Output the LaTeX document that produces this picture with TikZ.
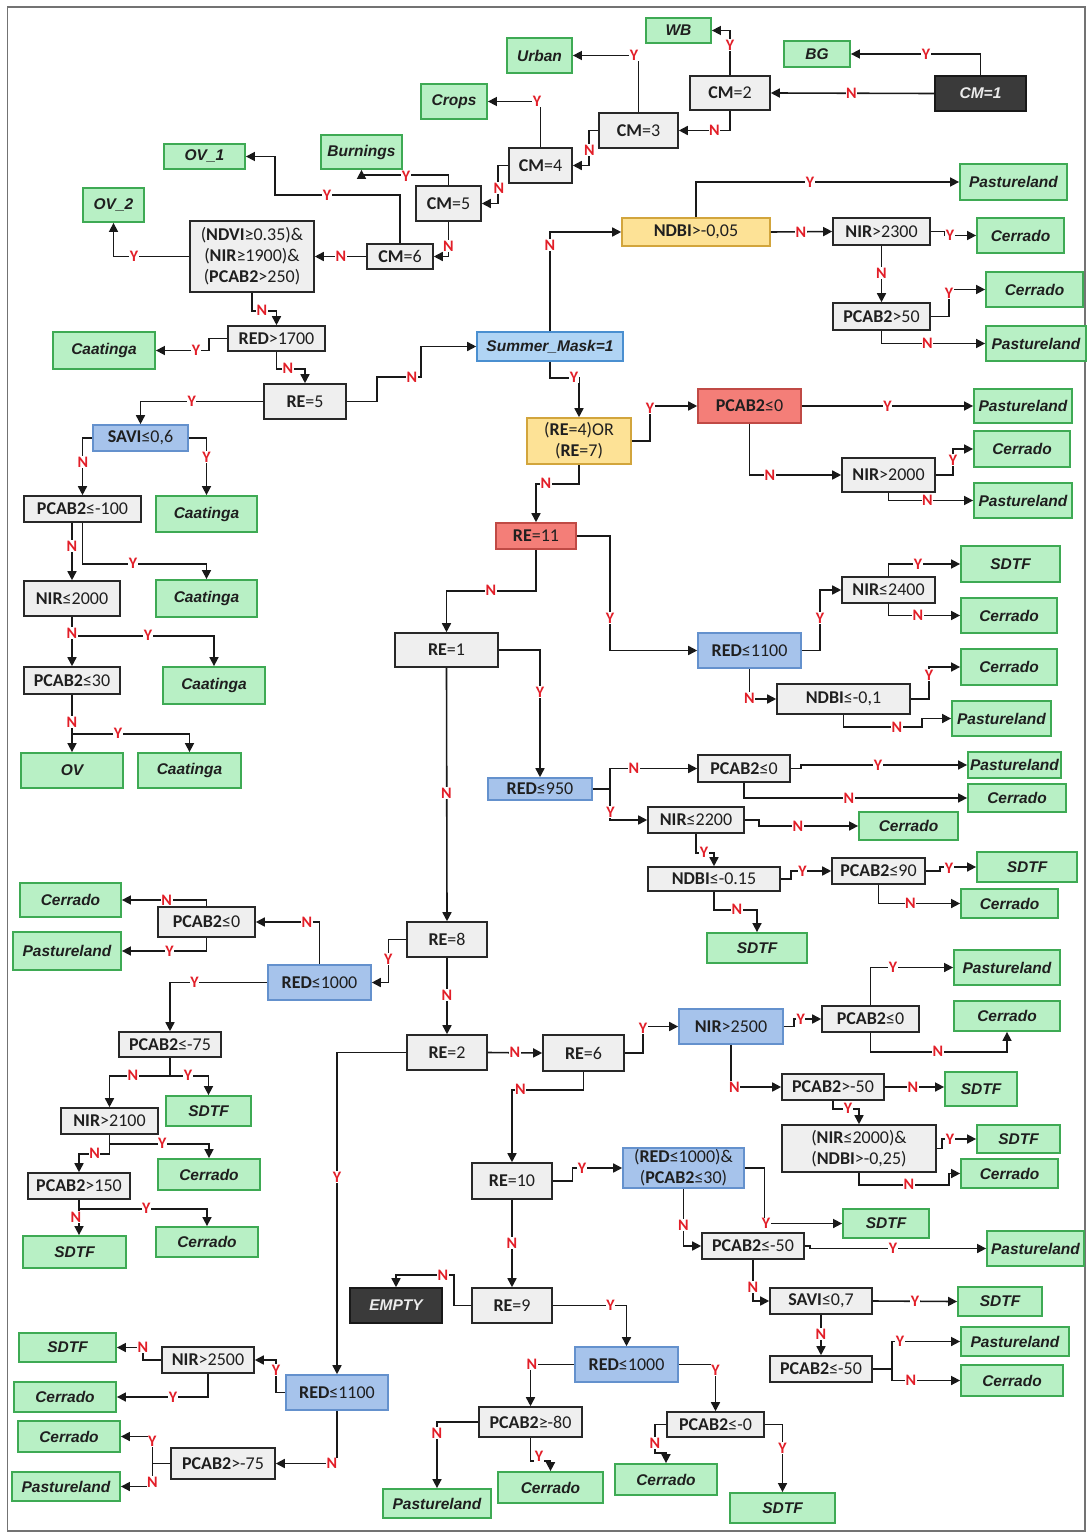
\documentclass[tikz,border=0pt]{standalone}
\usepackage{fontspec}
\setmainfont{Carlito}
\newfontfamily\arialf{Liberation Sans}
\usetikzlibrary{arrows.meta}
\definecolor{gfill}{RGB}{239,239,239}
\definecolor{gdraw}{RGB}{40,40,40}
\definecolor{grfill}{RGB}{184,240,197}
\definecolor{grdraw}{RGB}{62,170,84}
\definecolor{blfill}{RGB}{166,195,235}
\definecolor{bldraw}{RGB}{100,145,205}
\definecolor{smfill}{RGB}{176,212,244}
\definecolor{smdraw}{RGB}{74,143,208}
\definecolor{yefill}{RGB}{253,226,150}
\definecolor{yedraw}{RGB}{210,165,60}
\definecolor{rdfill}{RGB}{244,126,120}
\definecolor{rddraw}{RGB}{192,74,69}
\definecolor{dkfill}{RGB}{58,58,58}
\definecolor{lblred}{RGB}{226,30,40}
\definecolor{linec}{RGB}{25,25,25}
\newcommand{\mkbox}[7]{\node[#1, minimum width={(#5-#3)*1pt}, minimum height={(#6-#4)*1pt}] (#2) at ({(#3+#5)/2},{(#4+#6)/2}) {#7};}
\newcommand{\lab}[4]{\node[lbl] (#1) at (#2,#3) {#4};}
\begin{document}
\begin{tikzpicture}[x=1pt,y=-1pt,
  base/.style={draw, line width=1.6pt, inner sep=0pt, align=center},
  gray/.style={base, fill=gfill, draw=gdraw, text=black!88, font=\fontsize{18}{21}\selectfont},
  grn/.style={base, fill=grfill, draw=grdraw, line width=1.8pt, text=black!88, font=\arialf\bfseries\itshape\fontsize{15.5}{17}\selectfont},
  blu/.style={gray, fill=blfill, draw=bldraw},
  smask/.style={base, fill=smfill, draw=smdraw, text=black!88, font=\arialf\bfseries\itshape\fontsize{15.5}{17}\selectfont},
  yel/.style={gray, fill=yefill, draw=yedraw},
  redb/.style={gray, fill=rdfill, draw=rddraw},
  dark/.style={base, fill=dkfill, draw=black!90, text=white!92!black, font=\arialf\bfseries\itshape\fontsize{15.5}{17}\selectfont},
  arr/.style={draw=linec, line width=1.6pt, -{Triangle[length=9pt,width=9pt]}},
  lbl/.style={fill=white, inner sep=0.6pt, text=lblred, font=\bfseries\fontsize{16}{16}\selectfont}
]
\useasboundingbox (0,0) rectangle (1088,1533);
\draw[line width=1.2pt, black!55] (7.5,7) rectangle (1085,1531);

% ---------------- nodes ----------------
\mkbox{dark}{cm1}{935}{76}{1026}{111}{CM=1}
\mkbox{grn}{bg}{784}{41}{850}{67}{BG}
\mkbox{gray}{cm2}{690}{76}{770}{110}{\textbf{CM}=2}
\mkbox{grn}{wb}{646}{18}{711}{43}{WB}
\mkbox{gray}{cm3}{599}{113}{678}{148}{\textbf{CM}=3}
\mkbox{grn}{urban}{507}{38}{572}{73}{Urban}
\mkbox{gray}{cm4}{509}{148}{572}{183}{\textbf{CM}=4}
\mkbox{grn}{crops}{421}{84}{487}{119}{Crops}
\mkbox{gray}{cm5}{416}{186}{481}{221}{\textbf{CM}=5}
\mkbox{grn}{burn}{321}{135}{402}{169}{Burnings}
\mkbox{grn}{ov1}{164}{144}{245}{169}{OV\_1}
\mkbox{gray}{cm6}{367}{244}{433}{269}{\textbf{CM}=6}
\mkbox{gray}{ndvi}{190}{221}{314}{292}{(\textbf{NDVI}≥0.35)\&\\(\textbf{NIR}≥1900)\&\\(\textbf{PCAB2}>250)}
\mkbox{grn}{ov2}{83}{188}{144}{222}{OV\_2}
\mkbox{gray}{red1700}{228}{326}{325}{351}{\textbf{RED}>1700}
\mkbox{grn}{caa1}{53}{332}{155}{369}{Caatinga}
\mkbox{gray}{re5}{264}{384}{346}{419}{\textbf{RE}=5}
\mkbox{smask}{sm}{477}{332}{623}{361}{Summer\_Mask=1}
\mkbox{yel}{ndbi005}{622}{218}{770}{246}{\textbf{NDBI}>-0,05}
\mkbox{grn}{past1}{960}{164}{1067}{200}{Pastureland}
\mkbox{gray}{nir2300}{833}{218}{930}{245}{\textbf{NIR}>2300}
\mkbox{grn}{cer1}{977}{218}{1064}{253}{Cerrado}
\mkbox{gray}{pc50}{833}{303}{930}{330}{\textbf{PCAB2}>50}
\mkbox{grn}{cer2}{986}{272}{1083}{307}{Cerrado}
\mkbox{grn}{past2}{986}{326}{1086}{361}{Pastureland}

\mkbox{blu}{savi6}{93}{425}{188}{451}{\textbf{SAVI}≤0,6}
\mkbox{gray}{pcm100}{24}{496}{141}{522}{\textbf{PCAB2}≤-100}
\mkbox{grn}{caa2}{156}{496}{257}{532}{Caatinga}
\mkbox{gray}{nir2000a}{24}{581}{120}{616}{\textbf{NIR}≤2000}
\mkbox{grn}{caa3}{156}{580}{257}{617}{Caatinga}
\mkbox{gray}{pc30}{24}{667}{120}{694}{\textbf{PCAB2}≤30}
\mkbox{grn}{caa4}{163}{667}{265}{704}{Caatinga}
\mkbox{grn}{ov}{21}{753}{123}{788}{OV}
\mkbox{grn}{caa5}{138}{753}{241}{788}{Caatinga}
\mkbox{yel}{re47}{527}{418}{631}{464}{(\textbf{RE}=4)OR\\(\textbf{RE}=7)}
\mkbox{redb}{pc0r}{698}{389}{801}{423}{\textbf{PCAB2}≤0}
\mkbox{grn}{past3}{974}{389}{1072}{423}{Pastureland}
\mkbox{gray}{nir2000b}{842}{458}{935}{492}{\textbf{NIR}>2000}
\mkbox{grn}{cer3}{974}{431}{1070}{467}{Cerrado}
\mkbox{grn}{past4}{974}{483}{1072}{518}{Pastureland}
\mkbox{redb}{re11}{496}{523}{576}{549}{\textbf{RE}=11}
\mkbox{gray}{re1}{395}{633}{498}{667}{\textbf{RE}=1}
\mkbox{blu}{red1100a}{698}{633}{801}{668}{\textbf{RED}≤1100}
\mkbox{gray}{nir2400}{842}{577}{935}{603}{\textbf{NIR}≤2400}
\mkbox{grn}{sdtf1}{961}{546}{1060}{582}{SDTF}
\mkbox{grn}{cer4}{961}{598}{1057}{633}{Cerrado}
\mkbox{gray}{ndbi01}{777}{684}{910}{714}{\textbf{NDBI}≤-0,1}
\mkbox{grn}{cer5}{961}{649}{1057}{685}{Cerrado}
\mkbox{grn}{past5}{952}{701}{1051}{736}{Pastureland}
\mkbox{blu}{red950}{488}{778}{592}{800}{\textbf{RED}≤950}
\mkbox{gray}{pc0b}{698}{755}{790}{782}{\textbf{PCAB2}≤0}
\mkbox{grn}{past6}{968}{752}{1061}{778}{Pastureland}
\mkbox{grn}{cer6}{968}{784}{1066}{812}{Cerrado}
\mkbox{gray}{nir2200}{648}{807}{744}{833}{\textbf{NIR}≤2200}
\mkbox{grn}{cer7}{859}{812}{958}{840}{Cerrado}
\mkbox{gray}{ndbi015}{648}{867}{780}{891}{\textbf{NDBI}≤-0.15}
\mkbox{gray}{pc90}{832}{858}{925}{884}{\textbf{PCAB2}≤90}
\mkbox{grn}{sdtf2}{977}{852}{1077}{882}{SDTF}
\mkbox{grn}{cer8}{961}{889}{1058}{918}{Cerrado}
\mkbox{grn}{sdtf3}{707}{933}{807}{963}{SDTF}

\mkbox{gray}{re8}{407}{922}{487}{957}{\textbf{RE}=8}
\mkbox{blu}{red1000a}{268}{965}{371}{1000}{\textbf{RED}≤1000}
\mkbox{gray}{pc0d}{158}{907}{255}{937}{\textbf{PCAB2}≤0}
\mkbox{grn}{cer9}{20}{883}{121}{917}{Cerrado}
\mkbox{grn}{past7}{13}{932}{121}{970}{Pastureland}
\mkbox{gray}{pcm75}{119}{1032}{221}{1057}{\textbf{PCAB2}≤-75}
\mkbox{gray}{nir2100}{61}{1108}{158}{1134}{\textbf{NIR}>2100}
\mkbox{grn}{sdtf4}{166}{1096}{251}{1126}{SDTF}
\mkbox{gray}{pc150}{28}{1173}{130}{1199}{\textbf{PCAB2}>150}
\mkbox{grn}{cer10}{158}{1159}{260}{1190}{Cerrado}
\mkbox{grn}{sdtf5}{23}{1236}{126}{1268}{SDTF}
\mkbox{grn}{cer11}{156}{1227}{258}{1257}{Cerrado}
\mkbox{gray}{re2}{407}{1035}{487}{1070}{\textbf{RE}=2}
\mkbox{gray}{re6}{543}{1035}{624}{1071}{\textbf{RE}=6}
\mkbox{blu}{nir2500a}{679}{1009}{783}{1044}{\textbf{NIR}>2500}
\mkbox{gray}{pc0c}{822}{1006}{919}{1032}{\textbf{PCAB2}≤0}
\mkbox{grn}{past8}{954}{950}{1060}{985}{Pastureland}
\mkbox{grn}{cer12}{954}{1001}{1060}{1031}{Cerrado}
\mkbox{gray}{pcm50a}{782}{1074}{884}{1100}{\textbf{PCAB2}>-50}
\mkbox{grn}{sdtf6}{945}{1072}{1017}{1106}{SDTF}
\mkbox{gray}{nirndbi}{782}{1125}{936}{1172}{(\textbf{NIR}≤2000)\&\\(\textbf{NDBI}>-0,25)}
\mkbox{grn}{sdtf7}{977}{1125}{1060}{1153}{SDTF}
\mkbox{grn}{cer13}{961}{1159}{1058}{1188}{Cerrado}
\mkbox{gray}{re10}{472}{1163}{552}{1199}{\textbf{RE}=10}
\mkbox{blu}{redpc}{623}{1148}{744}{1188}{(\textbf{RED}≤1000)\&\\(\textbf{PCAB2}≤30)}
\mkbox{grn}{sdtf8}{843}{1209}{929}{1238}{SDTF}
\mkbox{gray}{pcm50b}{702}{1233}{804}{1259}{\textbf{PCAB2}≤-50}
\mkbox{grn}{past9}{987}{1231}{1084}{1266}{Pastureland}
\mkbox{gray}{savi7}{770}{1288}{872}{1314}{\textbf{SAVI}≤0,7}
\mkbox{grn}{sdtf9}{958}{1287}{1042}{1316}{SDTF}
\mkbox{gray}{pcm50c}{770}{1356}{872}{1382}{\textbf{PCAB2}≤-50}
\mkbox{grn}{past10}{961}{1327}{1069}{1356}{Pastureland}
\mkbox{grn}{cer14}{961}{1365}{1063}{1396}{Cerrado}
\mkbox{gray}{re9}{472}{1288}{552}{1323}{\textbf{RE}=9}
\mkbox{dark}{empty}{350}{1288}{442}{1323}{EMPTY}
\mkbox{blu}{red1000b}{575}{1347}{678}{1382}{\textbf{RED}≤1000}
\mkbox{gray}{pcm80}{479}{1407}{582}{1437}{\textbf{PCAB2}≥-80}
\mkbox{grn}{past11}{383}{1489}{491}{1518}{Pastureland}
\mkbox{grn}{cer15}{498}{1472}{603}{1503}{Cerrado}
\mkbox{gray}{pcm0}{667}{1412}{764}{1437}{\textbf{PCAB2}≤-0}
\mkbox{grn}{cer16}{615}{1464}{717}{1495}{Cerrado}
\mkbox{grn}{sdtf10}{730}{1493}{835}{1523}{SDTF}
\mkbox{blu}{red1100b}{286}{1375}{388}{1410}{\textbf{RED}≤1100}
\mkbox{gray}{nir2500b}{162}{1347}{254}{1373}{\textbf{NIR}>2500}
\mkbox{grn}{sdtf11}{19}{1333}{116}{1362}{SDTF}
\mkbox{grn}{cer17}{14}{1382}{116}{1412}{Cerrado}
\mkbox{gray}{pcm75b}{171}{1448}{275}{1479}{\textbf{PCAB2}>-75}
\mkbox{grn}{cer18}{18}{1421}{120}{1452}{Cerrado}
\mkbox{grn}{past12}{12}{1472}{120}{1501}{Pastureland}

% ---------------- connectors ----------------
\draw[arr] (cm1.north) |- (bg.east);
\draw[arr] (cm1.west) -- (cm2.east);
\draw[arr] (cm2.north) |- (wb.east);
\draw[arr] (cm2.south) |- (cm3.east);
\draw[arr] (cm3.north) |- (urban.east);
\draw[arr] (cm3.west) -- ++(-9.5,0) |- (cm4.east);
\draw[arr] (cm4.north) |- (crops.east);
\draw[arr] (cm4.west) -- ++(-10,0) |- (cm5.east);
\draw[arr] (cm5.north) -- ++(0,-10) -| (burn.south);
\draw[arr] (cm5.south) |- (cm6.east);
\draw[arr] (cm6.north) |- (275,195) |- (ov1.east);
\draw[arr] (cm6.west) -- (ndvi.east);
\draw[arr] (ndvi.west) -| (ov2.south);
\draw[arr] (ndvi.south) -- ++(0,18) -| (red1700.north);
\draw[arr] (red1700.west) -- ++(-18,0) |- (caa1.east);
\draw[arr] (red1700.south) -- ++(0,17) -| (re5.north);
\draw[arr] (re5.east) -| (377,377) -| (421,346.5) -- (sm.west);
\draw[arr] (sm.north) |- (ndbi005.west);
\draw[arr] (ndbi005.north) |- (past1.west);
\draw[arr] (ndbi005.east) -- (nir2300.west);
\draw[arr] (nir2300.east) -- ++(14,0) |- (cer1.west);
\draw[arr] (nir2300.south) -- (pc50.north);
\draw[arr] (pc50.east) -| (949,289.5) -- (cer2.west);
\draw[arr] (pc50.south) |- (past2.west);
\draw[arr] (sm.south) -- ++(0,16) -| (re47.north);
\draw[arr] (re5.west) -| (savi6.north);
\draw[arr] (savi6.west) -| (pcm100.north);
\draw[arr] (savi6.east) -| (caa2.north);
\draw[arr] (nir2000a.north |- pcm100.south) -- (nir2000a.north);
\draw[arr] (pcm100.south) -- ++(0,41) -| (caa3.north);
\draw[arr] (nir2000a.south) -- (pc30.north);
\draw[arr] (nir2000a.south) -- ++(0,19) -| (caa4.north);
\draw[arr] (pc30.south) -- (ov.north);
\draw[arr] (pc30.south) ++(0,39) -| (caa5.north);
\draw[arr] (re47.east) -| (650,406) -- (pc0r.west);
\draw[arr] (pc0r.east) -- (past3.west);
\draw[arr] (pc0r.south) |- (nir2000b.west);
\draw[arr] (nir2000b.east) -| (953,449) -- (cer3.west);
\draw[arr] (nir2000b.south) |- (past4.west);
\draw[arr] (re47.south) -- ++(0,19) -| (re11.north);
\draw[arr] (re11.south) -- ++(0,41) -| (re1.north);
\draw[arr] (re11.east) -| (610,650.5) -- (red1100a.west);
\draw[arr] (red1100a.east) -| (820,590) -- (nir2400.west);
\draw[arr] (nir2400.north) |- (sdtf1.west);
\draw[arr] (nir2400.south) |- (cer4.west);
\draw[arr] (red1100a.south) |- (ndbi01.west);
\draw[arr] (ndbi01.east) -| (929,667) -- (cer5.west);
\draw[arr] (ndbi01.south) |- (922,727) |- (past5.west);
\draw[arr] (re1.east) -| (red950.north);
\draw[arr] (re1.south) -- (re8.north);
\draw[arr] (red950.east) -| (610,768.5) -- (pc0b.west);
\draw[arr] (pc0b.east) -- ++(10,0) |- (past6.west);
\draw[arr] (pc0b.south) |- (cer6.west);
\draw[arr] (red950.east) -| (610,820) -- (nir2200.west);
\draw[arr] (nir2200.east) -- ++(14,0) |- (cer7.west);
\draw[arr] (nir2200.south) -- ++(0,19) -| (ndbi015.north);
\draw[arr] (ndbi015.east) -- ++(10,0) |- (pc90.west);
\draw[arr] (pc90.east) -- ++(14,0) |- (sdtf2.west);
\draw[arr] (pc90.south) |- (cer8.west);
\draw[arr] (ndbi015.south) -- ++(0,18) -| (sdtf3.north);
\draw[arr] (re8.west) -| (388.4,982.5) -- (red1000a.east);
\draw[arr] (red1000a.north) |- (pc0d.east);
\draw[arr] (pc0d.north) |- (cer9.east);
\draw[arr] (pc0d.south) |- (past7.east);
\draw[arr] (red1000a.west) -| (pcm75.north);
\draw[arr] (pcm75.south) -- ++(0,18) -| (nir2100.north);
\draw[arr] (pcm75.south) -- ++(0,18) -| (sdtf4.north);
\draw[arr] (nir2100.south) -- ++(0,9) -| (cer10.north);
\draw[arr] (nir2100.south) -- ++(0,19) -| (pc150.north);
\draw[arr] (pc150.south) -- ++(0,9) -| (cer11.north);
\draw[arr] (pc150.south) -- (pc150.south |- sdtf5.north);
\draw[arr] (re8.south) -- (re2.north);
\draw[arr] (re2.east) -- (re6.west);
\draw[arr] (re2.west) -| (red1100b.north);
\draw[arr] (re6.east) -| (643,1026.5) -- (nir2500a.west);
\draw[arr] (nir2500a.east) -- ++(10,0) |- (pc0c.west);
\draw[arr] (pc0c.north) |- (past8.west);
\draw[arr] (pc0c.south) -- ++(0,19) -| (cer12.south);
\draw[arr] (nir2500a.south) |- (pcm50a.west);
\draw[arr] (pcm50a.east) -- (sdtf6.west |- pcm50a.east);
\draw[arr] (pcm50a.south) -- ++(0,8) -| (nirndbi.north);
\draw[arr] (nirndbi.east) -- ++(5,0) |- (sdtf7.west);
\draw[arr] (nirndbi.south) -- ++(0,12) -| (949,1173.5) -- (cer13.west);
\draw[arr] (re6.south) -- ++(0,18) -| (re10.north);
\draw[arr] (re10.east) -| (572.5,1168) -- (redpc.west);
\draw[arr] (redpc.east) -| (764.5,1223.5) -- (sdtf8.west);
\draw[arr] (redpc.south) |- (pcm50b.west);
\draw[arr] (pcm50b.east) -- ++(5,0) |- (past9.west);
\draw[arr] (pcm50b.south) |- (savi7.west);
\draw[arr] (savi7.east) -- (sdtf9.west);
\draw[arr] (savi7.south) -- (pcm50c.north);
\draw[arr] (pcm50c.east) -- ++(19,0) |- (past10.west);
\draw[arr] (pcm50c.east) -- ++(19,0) |- (cer14.west);
\draw[arr] (re10.south) -- (re9.north);
\draw[arr] (re9.west) -| (454,1275) -| (empty.north);
\draw[arr] (re9.east) -| (red1000b.north);
\draw[arr] (red1000b.west) -| (pcm80.north);
\draw[arr] (pcm80.west) -| (past11.north);
\draw[arr] (pcm80.south) -- ++(0,23) -| (cer15.north);
\draw[arr] (red1000b.east) -| (pcm0.north);
\draw[arr] (pcm0.west) -| (655,1452.7) -| (cer16.north);
\draw[arr] (pcm0.east) -| (sdtf10.north);
\draw[arr] (red1100b.west) -| (276,1360) -- (nir2500b.east);
\draw[arr] (nir2500b.west) -| (143,1347.5) -- (sdtf11.east);
\draw[arr] (nir2500b.south) |- (cer17.east);
\draw[arr] (red1100b.south) |- (pcm75b.east);
\draw[arr] (pcm75b.west) -| (152.4,1436.5) -- (cer18.east);
\draw[arr] (pcm75b.west) -| (152.4,1486.5) -- (past12.east);

% ---------------- labels ----------------
\lab{l1}{926}{54}{Y}
\lab{l2}{851.5}{93.5}{N}
\lab{l3}{730}{45}{Y}
\lab{l4}{714.5}{130.5}{N}
\lab{l5}{634}{55.5}{Y}
\lab{l6}{589.5}{150}{N}
\lab{l7}{537}{101.5}{Y}
\lab{l8}{499}{188}{N}
\lab{l9}{406}{176}{Y}
\lab{l10}{448.5}{246}{N}
\lab{l11}{327}{195}{Y}
\lab{l12}{341}{256.5}{N}
\lab{l13}{134}{256.5}{Y}
\lab{l14}{262}{310}{N}
\lab{l15}{196}{350.5}{Y}
\lab{l16}{288}{368}{N}
\lab{l17}{412}{377}{N}
\lab{l18}{550}{245}{N}
\lab{l19}{810}{182}{Y}
\lab{l20}{801}{232}{N}
\lab{l21}{950}{235}{Y}
\lab{l22}{881.5}{273}{N}
\lab{l23}{949}{293}{Y}
\lab{l24}{927.5}{343.5}{N}
\lab{l25}{574}{377}{Y}
\lab{l26}{191.7}{401.5}{Y}
\lab{l27}{83}{462}{N}
\lab{l28}{206.5}{457}{Y}
\lab{l29}{72}{546}{N}
\lab{l30}{133}{563}{Y}
\lab{l31}{72}{633}{N}
\lab{l32}{148}{635}{Y}
\lab{l33}{72}{722}{N}
\lab{l34}{118}{733}{Y}
\lab{l35}{650}{408}{Y}
\lab{l36}{887.6}{406}{Y}
\lab{l37}{770}{475}{N}
\lab{l38}{953}{460}{Y}
\lab{l39}{927.5}{500.5}{N}
\lab{l40}{546}{483}{N}
\lab{l41}{491}{590}{N}
\lab{l42}{610}{618}{Y}
\lab{l43}{820}{618}{Y}
\lab{l44}{918}{564}{Y}
\lab{l45}{918}{615.5}{N}
\lab{l46}{749.5}{698}{N}
\lab{l47}{929}{675}{Y}
\lab{l48}{897}{727}{N}
\lab{l49}{540}{692}{Y}
\lab{l50}{446.5}{793}{N}
\lab{l51}{634}{768.5}{N}
\lab{l52}{878}{765}{Y}
\lab{l53}{849}{798}{N}
\lab{l54}{610.5}{812}{Y}
\lab{l55}{798}{826}{N}
\lab{l56}{704}{852}{Y}
\lab{l57}{802.5}{871}{Y}
\lab{l58}{949}{868}{Y}
\lab{l59}{910.5}{903.5}{N}
\lab{l60}{737}{909}{N}
\lab{l61}{388.4}{959}{Y}
\lab{l62}{307}{922}{N}
\lab{l63}{166.7}{900}{N}
\lab{l64}{169.6}{951}{Y}
\lab{l65}{194.6}{982.5}{Y}
\lab{l66}{132.8}{1075}{N}
\lab{l67}{188}{1075}{Y}
\lab{l68}{162.4}{1143}{Y}
\lab{l69}{94.6}{1153}{N}
\lab{l70}{146.4}{1208}{Y}
\lab{l71}{76}{1217}{N}
\lab{l72}{447}{995}{N}
\lab{l73}{515}{1052.5}{N}
\lab{l74}{337}{1177}{Y}
\lab{l75}{643}{1028}{Y}
\lab{l76}{800.7}{1019}{Y}
\lab{l77}{893}{967.5}{Y}
\lab{l78}{938}{1051}{N}
\lab{l79}{734.4}{1087}{N}
\lab{l80}{913}{1087}{N}
\lab{l81}{848}{1108}{Y}
\lab{l82}{950}{1139}{Y}
\lab{l83}{909}{1184}{N}
\lab{l84}{520.5}{1089}{N}
\lab{l85}{582}{1168}{Y}
\lab{l86}{766}{1223.5}{Y}
\lab{l87}{683.5}{1225}{N}
\lab{l88}{893}{1248.5}{Y}
\lab{l89}{753}{1287}{N}
\lab{l90}{915}{1301}{Y}
\lab{l91}{821}{1334}{N}
\lab{l92}{900}{1341.5}{Y}
\lab{l93}{911}{1380.5}{N}
\lab{l94}{512}{1243}{N}
\lab{l95}{443}{1275}{N}
\lab{l96}{610.5}{1305.5}{Y}
\lab{l97}{532}{1364.5}{N}
\lab{l98}{437}{1433}{N}
\lab{l99}{539}{1456}{Y}
\lab{l100}{715.5}{1370}{Y}
\lab{l101}{655}{1443}{N}
\lab{l102}{782.5}{1448}{Y}
\lab{l103}{276}{1370}{Y}
\lab{l104}{143}{1347.5}{N}
\lab{l105}{173}{1397}{Y}
\lab{l106}{332}{1463.5}{N}
\lab{l107}{152.4}{1441}{Y}
\lab{l108}{152.4}{1482}{N}
\end{tikzpicture}
\end{document}
